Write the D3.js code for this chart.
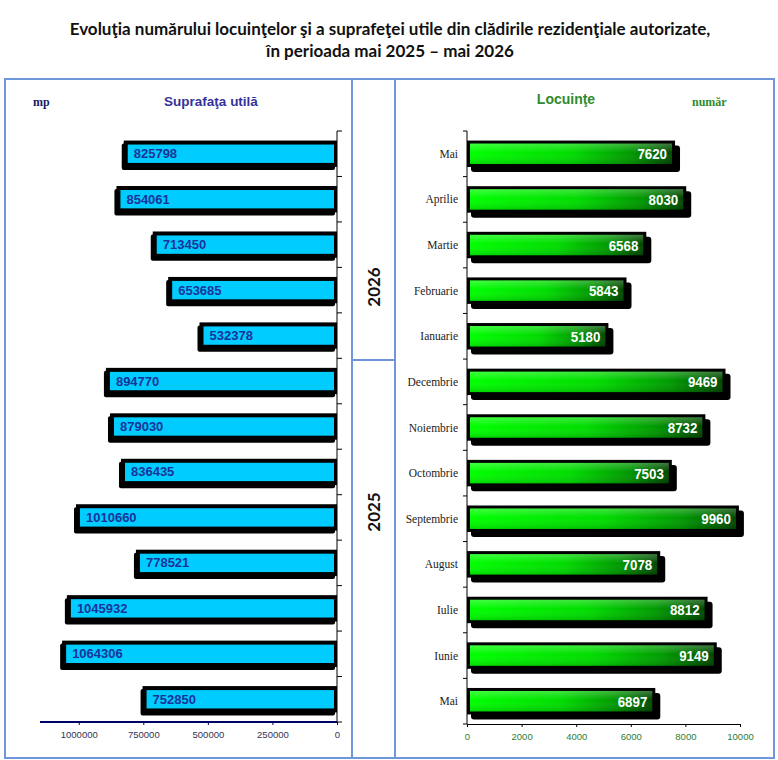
<!DOCTYPE html>
<html><head><meta charset="utf-8">
<script src="https://cdn.jsdelivr.net/npm/d3@7"></script>
<style>body{margin:0;background:#fff}svg{display:block}</style>
</head><body>
<svg id="c" width="778" height="760"></svg>
<script>
const months = ["Mai","Aprilie","Martie","Februarie","Ianuarie","Decembrie","Noiembrie","Octombrie","Septembrie","August","Iulie","Iunie","Mai"];
const surface = [825798,854061,713450,653685,532378,894770,879030,836435,1010660,778521,1045932,1064306,752850];
const dwellings = [7620,8030,6568,5843,5180,9469,8732,7503,9960,7078,8812,9149,6897];
const surfaceTicks = [0,250000,500000,750000,1000000];
const dwellingTicks = [0,2000,4000,6000,8000,10000];
const years = ["2026","2025"];

const svg = d3.select("#c");
const idx = months.map((m,i)=>i);

// Title
const title = svg.append("text").attr("x",389).attr("text-anchor","middle")
  .style("font-family","Lato, 'Open Sans', sans-serif").style("font-weight","bold").style("font-size","17px").attr("fill","#111");
title.append("tspan").attr("x",390).attr("y",35).text("Evoluţia numărului locuinţelor şi a suprafeţei utile din clădirile rezidenţiale autorizate,");
title.append("tspan").attr("x",390).attr("y",57).text("în perioada mai 2025 – mai 2026");

// Frames
const frame = "#6f96d8";
svg.append("rect").attr("x",5).attr("y",79).attr("width",769).attr("height",679).attr("fill","none").attr("stroke",frame).attr("stroke-width",2);
svg.append("line").attr("x1",352).attr("x2",352).attr("y1",79).attr("y2",758).attr("stroke",frame).attr("stroke-width",2);
svg.append("line").attr("x1",395).attr("x2",395).attr("y1",79).attr("y2",758).attr("stroke",frame).attr("stroke-width",2);
svg.append("line").attr("x1",352).attr("x2",395).attr("y1",360).attr("y2",360).attr("stroke",frame).attr("stroke-width",2);

// Year labels
svg.append("text").attr("transform","translate(380,287) rotate(-90)").attr("text-anchor","middle")
  .style("font-family","Lato, sans-serif").style("font-weight","bold").style("font-size","17px").attr("fill","#111").text(years[0]);
svg.append("text").attr("transform","translate(380,512) rotate(-90)").attr("text-anchor","middle")
  .style("font-family","Lato, sans-serif").style("font-weight","bold").style("font-size","17px").attr("fill","#111").text(years[1]);

const y = d3.scaleBand().domain(idx).range([131,722]).paddingInner(0.42).paddingOuter(0.21);
const yR = d3.scaleBand().domain(idx).range([131,724]).paddingInner(0.42).paddingOuter(0.21);

// ---------- Left chart ----------
const xL = d3.scaleLinear().domain([0,1150000]).range([337,40]);
svg.append("text").attr("x",211).attr("y",106).attr("text-anchor","middle")
  .style("font-family","'Liberation Sans', Arial, sans-serif").style("font-weight","bold").style("font-size","13.5px").attr("fill","#333399").text("Suprafaţa utilă");
svg.append("text").attr("x",33).attr("y",106)
  .style("font-family","'Liberation Serif', 'Times New Roman', serif").style("font-weight","bold").style("font-size","12px").attr("fill","#1a1a66").text("mp");

const gl = svg.append("g");
gl.selectAll("rect.sh").data(idx).join("rect")
  .attr("x",i=>xL(surface[i])-2).attr("y",i=>y(i)+3).attr("width",i=>xL(0)-xL(surface[i])).attr("height",y.bandwidth())
  .attr("rx",2).attr("fill","#000");
gl.selectAll("rect.b").data(idx).join("rect")
  .attr("x",i=>xL(surface[i])).attr("y",i=>y(i)).attr("width",i=>xL(0)-xL(surface[i])).attr("height",y.bandwidth())
  .attr("fill","#000");
gl.selectAll("rect.f").data(idx).join("rect")
  .attr("x",i=>xL(surface[i])+4).attr("y",i=>y(i)+4).attr("width",i=>xL(0)-xL(surface[i])-7).attr("height",y.bandwidth()-8)
  .attr("fill","#00ccff");
gl.selectAll("text").data(idx).join("text")
  .attr("x",i=>xL(surface[i])+10).attr("y",i=>y(i)+y.bandwidth()/2+4.5)
  .style("font-family","'Liberation Sans', Arial, sans-serif").style("font-weight","bold").style("font-size","13px")
  .attr("fill","#1a3399").text(i=>surface[i]);

// left y axis
const yAxisL = svg.append("g").attr("transform","translate(337,0)");
yAxisL.append("line").attr("y1",131).attr("y2",722).attr("stroke","#000");
yAxisL.selectAll("line.t").data(d3.range(14)).join("line").attr("class","t")
  .attr("x1",0).attr("x2",5).attr("y1",k=>131+k*y.step()).attr("y2",k=>131+k*y.step()).attr("stroke","#000");
// left x axis
const xAxisL = svg.append("g").attr("transform","translate(0,722)")
  .call(d3.axisBottom(xL).tickValues(surfaceTicks).tickSize(3).tickSizeOuter(0).tickFormat(d3.format("d")));
xAxisL.select(".domain").remove();
xAxisL.append("line").attr("x1",40).attr("x2",337).attr("stroke","#000066").attr("stroke-width",2);
xAxisL.selectAll(".tick line").attr("stroke","#000066");
xAxisL.selectAll("text").attr("dy","1em").style("font-family","'Liberation Sans', Arial, sans-serif").style("font-size","9.5px").attr("fill","#333355");

// ---------- Right chart ----------
const xR = d3.scaleLinear().domain([0,10000]).range([467,740]);
svg.append("text").attr("x",566).attr("y",104).attr("text-anchor","middle")
  .style("font-family","'Liberation Sans', Arial, sans-serif").style("font-weight","bold").style("font-size","14px").attr("fill","#2e8b2e").text("Locuinţe");
svg.append("text").attr("x",692).attr("y",106)
  .style("font-family","'Liberation Serif', 'Times New Roman', serif").style("font-weight","bold").style("font-size","12px").attr("fill","#2e8b2e").text("număr");

const defs = svg.append("defs");
const grad = defs.append("linearGradient").attr("id","gg").attr("x1","0").attr("x2","1").attr("y1","0").attr("y2","0");
grad.append("stop").attr("offset","0").attr("stop-color","#00ff00");
grad.append("stop").attr("offset","0.5").attr("stop-color","#00dc00");
grad.append("stop").attr("offset","0.8").attr("stop-color","#009800");
grad.append("stop").attr("offset","1").attr("stop-color","#004800");
const gv = defs.append("linearGradient").attr("id","gv").attr("x1","0").attr("x2","0").attr("y1","0").attr("y2","1");
gv.append("stop").attr("offset","0").attr("stop-color","#fff").attr("stop-opacity",0.25);
gv.append("stop").attr("offset","0.45").attr("stop-color","#fff").attr("stop-opacity",0);
gv.append("stop").attr("offset","1").attr("stop-color","#000").attr("stop-opacity",0.15);

const gr = svg.append("g");
gr.selectAll("rect.sh").data(idx).join("rect")
  .attr("x",xR(0)+4).attr("y",i=>yR(i)+5).attr("width",i=>xR(dwellings[i])-xR(0)+1).attr("height",yR.bandwidth())
  .attr("rx",3).attr("fill","#000");
gr.selectAll("rect.b").data(idx).join("rect")
  .attr("x",xR(0)).attr("y",i=>yR(i)).attr("width",i=>xR(dwellings[i])-xR(0)).attr("height",yR.bandwidth())
  .attr("fill","#000");
gr.selectAll("rect.f").data(idx).join("rect")
  .attr("x",xR(0)+3).attr("y",i=>yR(i)+3).attr("width",i=>xR(dwellings[i])-xR(0)-6).attr("height",yR.bandwidth()-6)
  .attr("fill","url(#gg)");
gr.selectAll("rect.v").data(idx).join("rect")
  .attr("x",xR(0)+3).attr("y",i=>yR(i)+3).attr("width",i=>xR(dwellings[i])-xR(0)-6).attr("height",yR.bandwidth()-6)
  .attr("fill","url(#gv)");
gr.selectAll("text").data(idx).join("text")
  .attr("transform",i=>`translate(${xR(dwellings[i])-8},${yR(i)+yR.bandwidth()/2+5.5}) scale(0.86,1)`)
  .attr("text-anchor","end")
  .style("font-family","'Liberation Sans', Arial, sans-serif").style("font-weight","bold").style("font-size","15.5px")
  .attr("fill","#fff").text(i=>dwellings[i]);

// categories
svg.append("g").selectAll("text").data(idx).join("text")
  .attr("x",458).attr("y",i=>yR(i)+yR.bandwidth()/2+4).attr("text-anchor","end")
  .style("font-family","'Liberation Serif', 'Times New Roman', serif").style("font-size","11.5px").attr("fill","#222")
  .text(i=>months[i]);

const yAxisR = svg.append("g").attr("transform","translate(467,0)");
yAxisR.append("line").attr("y1",131).attr("y2",724).attr("stroke","#000");
yAxisR.selectAll("line.t").data(d3.range(14)).join("line").attr("class","t")
  .attr("x1",0).attr("x2",-4).attr("y1",k=>131+k*yR.step()).attr("y2",k=>131+k*yR.step()).attr("stroke","#000");

const xAxisR = svg.append("g").attr("transform","translate(0,724)")
  .call(d3.axisBottom(xR).tickValues(dwellingTicks).tickSize(3).tickSizeOuter(0).tickFormat(d3.format("d")));
xAxisR.select(".domain").attr("stroke","#000");
xAxisR.selectAll("text").attr("dy","1em").style("font-family","'Liberation Sans', Arial, sans-serif").style("font-size","9.5px").attr("fill","#2e7d32");
</script>
</body></html>
